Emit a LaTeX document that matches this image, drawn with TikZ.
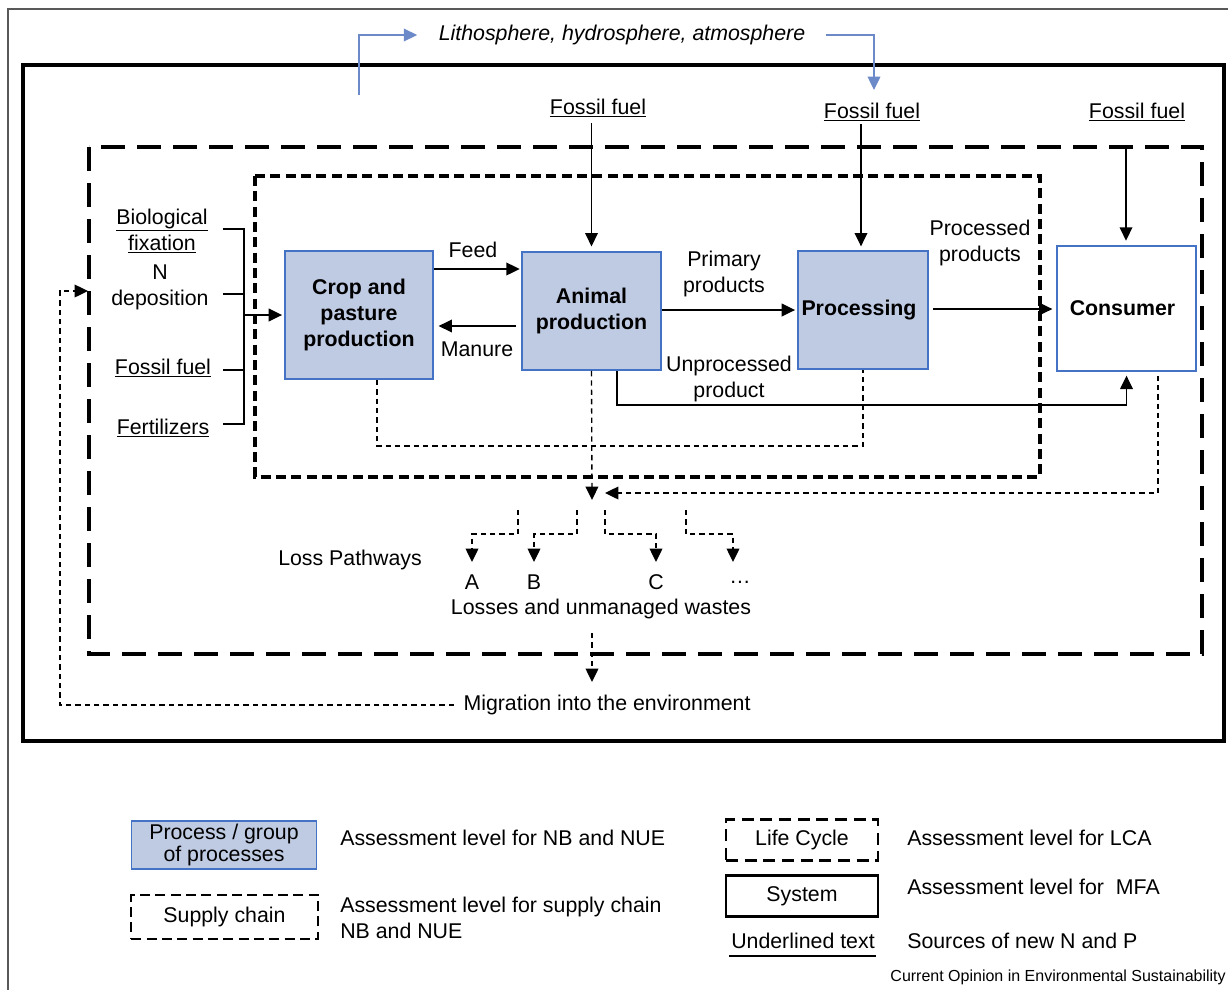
\documentclass[tikz,border=0pt]{standalone}
\usepackage{fontspec}
\setmainfont{Liberation Sans}
\usetikzlibrary{arrows.meta,calc}
\definecolor{boxfill}{HTML}{BFCAE3}
\definecolor{boxline}{HTML}{4472C4}
\definecolor{bluearr}{HTML}{6C89C8}
\begin{document}
\begin{tikzpicture}[x=0.75pt,y=-0.75pt,
  font=\fontsize{16}{19.5}\selectfont,
  proc/.style={draw=boxline, fill=boxfill, line width=1.4pt, align=center, inner sep=0pt, font=\fontsize{16}{19.5}\selectfont\bfseries},
  arr/.style={-{Triangle[length=10pt,width=9.5pt]}, line width=1pt},
  barr/.style={-{Triangle[length=10pt,width=9.5pt]}, line width=1pt, draw=bluearr},
  thindash/.style={dash pattern=on 4pt off 3pt, line width=1pt},
  lcframe/.style={line width=2.4pt, dash pattern=on 18pt off 9pt},
  scframe/.style={line width=2.4pt, dash pattern=on 7.5pt off 4pt},
  sysframe/.style={line width=2.4pt},
  lbl/.style={align=center, inner sep=0pt},
  lft/.style={align=left, inner sep=0pt, anchor=west}]
\useasboundingbox (0,0) rectangle (1228,990);
% outer thin frame
\draw[gray!70!black, line width=1pt] (8,990) -- (8,9) -- (1228,9);
% frames
\draw[sysframe] (23,65) rectangle (1224,741);
\draw[lcframe] (89,147) rectangle (1202,654);
\draw[scframe] (255,176) rectangle (1040,477);

% process boxes
\node[proc, minimum width=111pt, minimum height=96pt] (crop) at (359,315) {Crop and\\pasture\\production};
\node[proc, minimum width=104.25pt, minimum height=88.5pt] (animal) at (591.5,311) {Animal\\production};
\node[proc, minimum width=97.5pt, minimum height=88.5pt] (proc) at (863,310) {\hspace*{-6pt}Processing};
\node[draw=boxline, line width=1pt, fill=white, minimum width=104.25pt, minimum height=93.75pt, inner sep=0pt, font=\fontsize{16}{19.5}\selectfont\bfseries] (cons) at (1126.5,308.5) {\hspace*{-6pt}Consumer};

% top
\node[lbl, font=\fontsize{16}{19.5}\selectfont\itshape] (litho) at (622,35) {Lithosphere, hydrosphere, atmosphere};
\coordinate (b1) at (359,95);
\coordinate (b2) at (874,90);
\draw[barr] (b1) -- (b1 |- litho) -- ([xshift=-16pt]litho.west);
\draw[barr] ([xshift=15pt]litho.east) -- (b2 |- litho) -- (b2);

% fossil fuels
\node[lbl] (ff1) at (598,108) {\underline{Fossil fuel}};
\node[lbl] (ff2) at (872,112) {\underline{Fossil fuel}};
\node[lbl] (ff3) at (1137,112) {\underline{Fossil fuel}};
\coordinate (f3s) at (1126,147);
\draw[arr, shorten >=3.5pt] (animal.north |- ff1.south) ++(0,6) -- (animal.north);
\draw[arr, shorten >=3.5pt] (861,124) -- (861,251);
\draw[arr, shorten >=3.5pt] (f3s) -- (f3s |- cons.north);

% left inputs
\node[lbl] (bio) at (162,231) {\underline{Biological}\\\underline{fixation}};
\node[lbl] (ndep) at (160,287) {N\\deposition};
\node[lbl] (ffl) at (163,368) {\underline{Fossil fuel}};
\node[lbl] (fert) at (163,428) {\underline{Fertilizers}};
\coordinate (brt) at (244,229);
\coordinate (brb) at (244,424);
\draw[line width=1pt] (223,229) -- (brt) -- (brb) -- (223,424);
\draw[line width=1pt] (223,294) -- (244,294);
\draw[line width=1pt] (223,370) -- (244,370);
\coordinate (brm) at (244,315);
\draw[arr, shorten >=1.5pt] (brm) -- (crop.west);

% main flows
\coordinate (feedy) at (0,269);
\coordinate (manurey) at (0,326);
\draw[arr, shorten >=1pt] (crop.east |- feedy) -- (animal.west |- feedy);
\node[lbl] (feed) at (473,250) {Feed};
\draw[arr] ([xshift=-3.5pt]animal.west |- manurey) -- ([xshift=3.5pt]crop.east |- manurey);
\node[lbl] (manure) at (477,349) {Manure};
\draw[arr, shorten >=1.5pt] (animal.east |- 0,310) -- (proc.west |- 0,310);
\node[lbl] (prim) at (724,274) {Primary\\products};
\draw[arr, shorten >=3pt] ([xshift=3pt]proc.east |- 0,309) -- (cons.west |- 0,309);
\node[lbl] (procd) at (980,243) {Processed\\products};
\coordinate (unp) at (617,405);
\draw[arr, shorten >=3pt] (unp |- animal.south) -- (unp) -- (cons.south |- unp) -- (cons.south);
\node[lbl, fill=white, inner sep=1pt] (unpl) at (729,379) {Unprocessed\\product};

% thin dashed wastes
\coordinate (wl) at (377,446);
\draw[thindash] (wl |- crop.south) -- (wl) -- (proc.south |- wl) -- (proc.south);
\coordinate (wa) at (592,500);
\draw[thindash, arr, dash pattern=on 4pt off 3pt] (animal.south) -- (wa);
\coordinate (wc) at (1158,493);
\coordinate (wce) at (605,493);
\draw[thindash, arr, dash pattern=on 4pt off 3pt] (wc |- cons.south) ++(0,4) -- (wc) -- (wce);

% loss pathways
\node[lbl] (lossp) at (350,560) {Loss Pathways};
\node[lbl] (la) at (472,582) {A};
\node[lbl] (lb) at (534,582) {B};
\node[lbl] (lc) at (656,582) {C};
\node[lbl] (ld) at (740,582) {\ldots};
\node[lbl] (losses) at (601,609) {Losses and unmanaged wastes};
\foreach \sx/\tx/\n in {518/472/la, 577/534/lb, 605/656/lc, 686/733/ld}{
  \draw[thindash, arr, dash pattern=on 4pt off 3pt] (\sx,510) -- (\sx,534) -- (\tx,534) -- (\tx,562);
}
\node[lbl] (migr) at (607,705) {Migration into the environment};
\coordinate (mtop) at (592,633);
\draw[thindash, arr, dash pattern=on 4pt off 3pt] (mtop) -- (592,682);
\coordinate (ml1) at (60,705);
\coordinate (ml2) at (60,291);
\coordinate (ml3) at (88,291);
\draw[thindash, arr, dash pattern=on 4pt off 3pt] ([xshift=-7pt]migr.west) -- (ml1) -- (ml2) -- (ml3);

% legend
\node[proc, font=\fontsize{16}{17}\selectfont, minimum width=138.75pt, minimum height=36pt] (lgp) at (224,845) {Process / group\\of processes};
\node[lft] (lgpt) at (340,838) {Assessment level for NB and NUE};
\node[draw, scframe, line width=1.8pt, minimum width=140pt, minimum height=33pt, inner sep=0pt] (lgs) at (224.5,917) {Supply chain};
\node[lft] (lgst) at (340,918) {Assessment level for supply chain\\NB and NUE};
\node[draw, line width=1.8pt, dash pattern=on 9pt off 5pt, minimum width=114pt, minimum height=30.75pt, inner sep=0pt] (lgl) at (802,840) {Life Cycle};
\node[lft] (lglt) at (907,838) {Assessment level for LCA};
\node[draw, line width=2pt, minimum width=114pt, minimum height=30.75pt, inner sep=0pt] (lgy) at (802,896) {System};
\node[lft] (lgyt) at (907,887) {Assessment level for\ \ MFA};
\node[lbl] (lgu) at (803,941) {Underlined text};
\coordinate (ulL) at (729,956);
\coordinate (ulR) at (876,956);
\draw[line width=1.5pt] (ulL) -- (ulR);
\node[lft] (lgut) at (907,941) {Sources of new N and P};
\node[inner sep=0pt, anchor=east, font=\fontsize{12}{14}\selectfont] (credit) at (1226,977) {Current Opinion in Environmental Sustainability};
\end{tikzpicture}
\end{document}
